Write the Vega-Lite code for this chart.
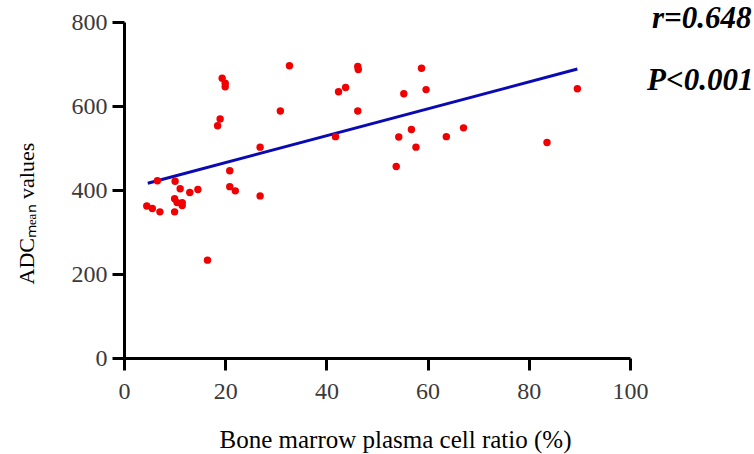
{
  "$schema": "https://vega.github.io/schema/vega-lite/v6.json",
  "width": 506,
  "height": 336,
  "autosize": {"type": "none"},
  "padding": {"left": 124, "top": 22, "right": 124, "bottom": 96},
  "background": "white",
  "config": {
    "view": {"stroke": null},
    "font": "Liberation Serif, Times New Roman, serif",
    "axis": {"labelFont": "Liberation Serif, Times New Roman, serif", "titleFont": "Liberation Serif, Times New Roman, serif"},
    "text": {"font": "Liberation Serif, Times New Roman, serif"}
  },
  "datasets": {
    "pts": [
      {"ratio": 4.5, "adc": 362}, {"ratio": 5.6, "adc": 356}, {"ratio": 6.6, "adc": 422},
      {"ratio": 7.1, "adc": 348}, {"ratio": 10.0, "adc": 348}, {"ratio": 10.0, "adc": 379},
      {"ratio": 10.1, "adc": 421}, {"ratio": 10.5, "adc": 370}, {"ratio": 11.1, "adc": 403},
      {"ratio": 11.5, "adc": 370}, {"ratio": 11.5, "adc": 363}, {"ratio": 13.0, "adc": 394},
      {"ratio": 14.6, "adc": 401}, {"ratio": 16.5, "adc": 233}, {"ratio": 18.5, "adc": 553},
      {"ratio": 19.0, "adc": 569}, {"ratio": 19.4, "adc": 666}, {"ratio": 20.0, "adc": 654},
      {"ratio": 20.0, "adc": 646}, {"ratio": 20.9, "adc": 446}, {"ratio": 20.9, "adc": 408},
      {"ratio": 22.0, "adc": 398}, {"ratio": 26.9, "adc": 386}, {"ratio": 26.9, "adc": 502},
      {"ratio": 30.9, "adc": 588}, {"ratio": 32.7, "adc": 696}, {"ratio": 41.8, "adc": 527},
      {"ratio": 42.4, "adc": 634}, {"ratio": 43.8, "adc": 644}, {"ratio": 46.2, "adc": 694},
      {"ratio": 46.3, "adc": 687}, {"ratio": 46.2, "adc": 588}, {"ratio": 53.8, "adc": 456},
      {"ratio": 54.3, "adc": 526}, {"ratio": 55.3, "adc": 629}, {"ratio": 56.8, "adc": 544},
      {"ratio": 57.7, "adc": 502}, {"ratio": 58.8, "adc": 690}, {"ratio": 59.7, "adc": 639},
      {"ratio": 63.7, "adc": 527}, {"ratio": 67.1, "adc": 548}, {"ratio": 83.6, "adc": 513},
      {"ratio": 89.6, "adc": 641}
    ],
    "fit": [
      {"ratio": 4.7, "adc": 416},
      {"ratio": 89.6, "adc": 688}
    ],
    "notes": [
      {"ratio": 124, "adc": 808, "label": "r=0.648"},
      {"ratio": 124.4, "adc": 660, "label": "P<0.001"}
    ]
  },
  "layer": [
    {
      "data": {"name": "fit"},
      "mark": {"type": "line", "color": "#0a0ab4", "strokeWidth": 3},
      "encoding": {
        "x": {
          "field": "ratio", "type": "quantitative",
          "scale": {"domain": [0, 100], "nice": false, "zero": false},
          "axis": {
            "title": "Bone marrow plasma cell ratio (%)",
            "values": [0, 20, 40, 60, 80, 100],
            "grid": false,
            "domainColor": "#000", "domainWidth": 3,
            "tickColor": "#000", "tickWidth": 3, "tickSize": 12,
            "labelFontSize": 24, "labelColor": "#3a3a3a",
            "labelPadding": 9, "labelFlush": false,
            "titleFontSize": 25, "titleFontWeight": "normal",
            "titleColor": "#000", "titleX": 271, "titleY": 89, "titleBaseline": "alphabetic", "titleAlign": "center"
          }
        },
        "y": {
          "field": "adc", "type": "quantitative",
          "scale": {"domain": [0, 800], "nice": false, "zero": false},
          "axis": {
            "title": "ADCₘₑₐₙ values",
            "values": [0, 200, 400, 600, 800],
            "grid": false,
            "domainColor": "#000", "domainWidth": 3,
            "tickColor": "#000", "tickWidth": 3, "tickSize": 12,
            "labelFontSize": 24, "labelColor": "#3a3a3a",
            "labelPadding": 5, "labelFlush": false,
            "titleFontSize": 22, "titleFontWeight": "normal",
            "titleColor": "#000", "titleX": -91, "titleY": 262, "titleAngle": -90, "titleBaseline": "alphabetic", "titleAlign": "left"
          }
        }
      }
    },
    {
      "data": {"name": "pts"},
      "mark": {"type": "circle", "color": "#f00000", "opacity": 1, "size": 55},
      "encoding": {
        "x": {"field": "ratio", "type": "quantitative"},
        "y": {"field": "adc", "type": "quantitative"}
      }
    },
    {
      "data": {"name": "notes"},
      "mark": {"type": "text", "align": "right", "baseline": "middle", "fontSize": 31, "fontStyle": "italic", "fontWeight": "bold", "color": "#000"},
      "encoding": {
        "x": {"field": "ratio", "type": "quantitative"},
        "y": {"field": "adc", "type": "quantitative"},
        "text": {"field": "label"}
      }
    }
  ]
}
